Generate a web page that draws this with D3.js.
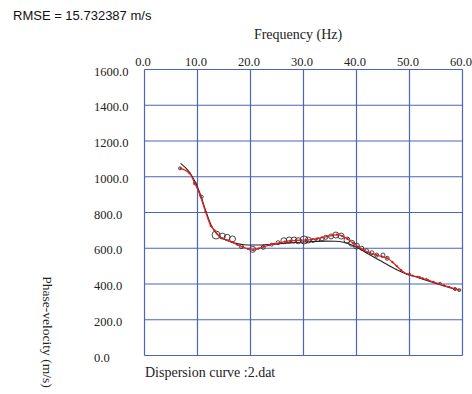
<!DOCTYPE html>
<html>
<head>
<meta charset="utf-8">
<script src="https://cdn.jsdelivr.net/npm/d3@7/dist/d3.min.js"></script>
<style>
  html, body { margin: 0; padding: 0; background: #fff; }
  svg { display: block; }
</style>
</head>
<body>
<svg id="chart" width="472" height="394"></svg>
<script>
// Axis ticks
const freqTicks = [0, 10, 20, 30, 40, 50, 60];
const velTicks = [0, 200, 400, 600, 800, 1000, 1200, 1400, 1600];

// Theoretical dispersion curve (black)
const theoFreq = [6.8, 8.5, 9.5, 10.5, 11.5, 12.5, 13.5, 14.5, 15.5, 16.5, 17.5, 18.5, 20, 22, 24, 26, 28, 30, 32, 34, 36, 37.5, 39, 40.5, 42, 44, 46, 48, 49.5, 51, 53, 55, 57, 59.3];
const theoVel  = [1075, 1025, 975, 905, 815, 735, 685, 660, 645, 634, 626, 621, 618, 618, 622, 627, 631, 635, 638, 640, 639, 634, 620, 598, 572, 538, 505, 474, 455, 442, 422, 403, 385, 366];

// Picked dispersion curve (red)
const pickFreq = [6.8, 8.5, 9.5, 10.5, 11.5, 12.5, 13.2, 14.2, 15.5, 16.5, 17.5, 18.5, 19.5, 20.5, 21.5, 22.5, 23.5, 24.5, 25.5, 26.5, 27.5, 28.5, 29.5, 30.5, 31.5, 32.5, 33.5, 34.5, 35.5, 36.3, 37.3, 38.3, 39.3, 40.3, 41.3, 42.5, 43.8, 44.8, 45.8, 46.8, 47.6, 48.4, 49.5, 50.5, 51.5, 52.5, 53.5, 54.5, 55.5, 56.5, 57.5, 58.5, 59.3];
const pickVel  = [1047, 1019, 963, 895, 805, 725, 700, 665, 646, 634, 620, 608, 597, 590, 598, 609, 617, 624, 630, 637, 641, 643, 645, 646, 648, 652, 660, 666, 672, 676, 668, 652, 630, 609, 592, 575, 562, 553, 544, 522, 500, 478, 456, 447, 440, 431, 422, 412, 402, 392, 383, 373, 366];

// Spectral picks (open circles) with relative size
const dotFreq = [6.7, 9.5, 10.8, 13.5, 14.7, 15.6, 16.6, 18.3, 20.4, 22.4, 24.0, 25.2, 26.3, 27.3, 28.2, 29.0, 30.1, 30.9, 31.8, 32.7, 33.5, 34.2, 35.2, 36.1, 37.1, 38.2, 39.1, 40.0, 41.0, 41.9, 42.9, 43.8, 45.0, 45.8, 50.0, 51.9, 53.2, 55.8, 58.6, 59.4];
const dotVel  = [1047, 963, 888, 674, 668, 661, 652, 609, 594, 605, 620, 631, 642, 646, 646, 642, 646, 646, 643, 648, 652, 661, 666, 674, 668, 646, 628, 612, 600, 586, 575, 562, 562, 544, 456, 437, 426, 404, 372, 366];
const dotSize = [1.5, 1.5, 1.5, 4, 3, 3, 3, 2, 3, 2, 1.5, 2, 3, 3, 3, 3, 4, 3, 2, 2, 2, 2, 2.5, 3, 3, 3, 3, 3, 2, 2, 2, 2, 2, 2, 1, 1, 1, 1, 1.5, 1.5];

const svg = d3.select("#chart");
const plot = { left: 144.5, right: 462.5, top: 69.5, bottom: 355.5 };
const gridColor = "#4a66b4";

const x = d3.scaleLinear().domain([0, 60]).range([plot.left, plot.right]);
const y = d3.scaleLinear().domain([0, 1600]).range([plot.bottom, plot.top]);

// Grid
svg.append("g").selectAll("line").data(freqTicks).join("line")
  .attr("x1", d => x(d)).attr("x2", d => x(d))
  .attr("y1", plot.top).attr("y2", plot.bottom)
  .attr("stroke", gridColor).attr("stroke-width", 1.2);
svg.append("g").selectAll("line").data(velTicks).join("line")
  .attr("x1", plot.left).attr("x2", plot.right)
  .attr("y1", d => y(d)).attr("y2", d => y(d))
  .attr("stroke", gridColor).attr("stroke-width", 1.2);

// Tick labels
const serif = "'Liberation Serif', 'DejaVu Serif', serif";
svg.append("g").selectAll("text").data(freqTicks).join("text")
  .attr("x", d => x(d) - 1.5).attr("y", 66)
  .attr("text-anchor", "middle")
  .attr("font-family", serif).attr("font-size", 12.5).attr("fill", "#222")
  .text(d => d.toFixed(1));
svg.append("g").selectAll("text").data(velTicks).join("text")
  .attr("x", 94).attr("y", d => y(d) + 6)
  .attr("text-anchor", "start")
  .attr("font-family", serif).attr("font-size", 12.5).attr("fill", "#222")
  .text(d => d.toFixed(1));

// Titles
svg.append("text").attr("x", 298).attr("y", 39)
  .attr("text-anchor", "middle")
  .attr("font-family", serif).attr("font-size", 14).attr("fill", "#222")
  .text("Frequency (Hz)");
svg.append("text").attr("transform", "translate(43,332) rotate(90)")
  .attr("text-anchor", "middle")
  .attr("font-family", serif).attr("font-size", 13.5).attr("fill", "#222")
  .text("Phase-velocity (m/s)");
svg.append("text").attr("x", 145).attr("y", 377)
  .attr("font-family", serif).attr("font-size", 14).attr("fill", "#222")
  .text("Dispersion curve :2.dat");
svg.append("text").attr("x", 13).attr("y", 20)
  .attr("font-family", "'Liberation Sans', Arial, sans-serif").attr("font-size", 13).attr("fill", "#111")
  .text("RMSE = 15.732387 m/s");

const line = d3.line().curve(d3.curveMonotoneX);

// Circles
svg.append("g").selectAll("circle").data(dotFreq).join("circle")
  .attr("cx", (d, i) => x(d)).attr("cy", (d, i) => y(dotVel[i]))
  .attr("r", (d, i) => dotSize[i])
  .attr("fill", "none").attr("stroke", "#333").attr("stroke-width", 0.9);

// Theoretical curve
svg.append("path")
  .attr("d", line(theoFreq.map((f, i) => [x(f), y(theoVel[i])])))
  .attr("fill", "none").attr("stroke", "#222").attr("stroke-width", 1.1);

// Picked curve
svg.append("path")
  .attr("d", line(pickFreq.map((f, i) => [x(f), y(pickVel[i])])))
  .attr("fill", "none").attr("stroke", "#e82020").attr("stroke-width", 1.2);
svg.append("g").selectAll("circle").data(pickFreq).join("circle")
  .attr("cx", d => x(d)).attr("cy", (d, i) => y(pickVel[i]))
  .attr("r", 1.1).attr("fill", "#d01818");
</script>
</body>
</html>
